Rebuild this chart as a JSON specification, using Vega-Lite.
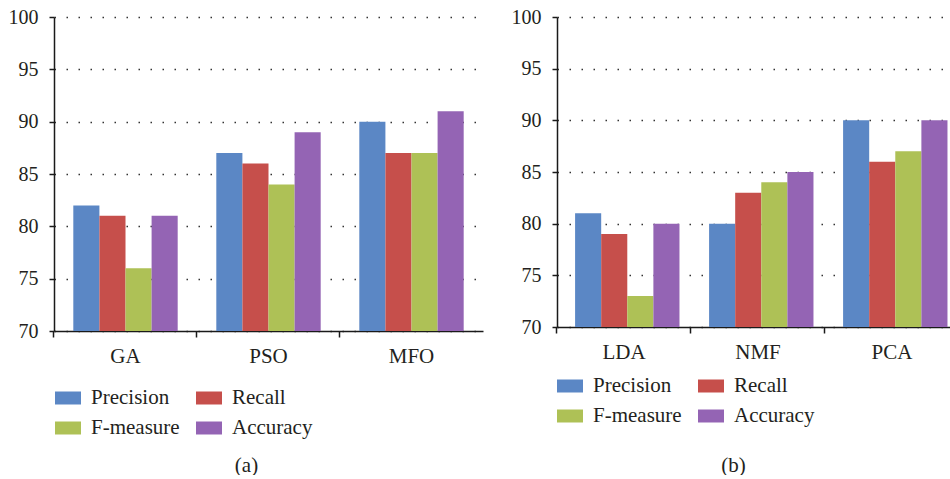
{
  "$schema": "https://vega.github.io/schema/vega-lite/v6.json",
  "background": "white",
  "padding": {"left": 8, "top": 7, "right": 0, "bottom": 0},
  "config": {
    "font": "Liberation Serif",
    "view": {"stroke": null},
    "axis": {
      "domainColor": "#1a1a1a",
      "domainWidth": 1.5,
      "tickColor": "#1a1a1a",
      "tickWidth": 1.5,
      "labelColor": "#231f20",
      "labelFont": "Liberation Serif",
      "titleFont": "Liberation Serif",
      "titleColor": "#231f20",
      "titleFontWeight": "normal"
    },
    "legend": {
      "labelFont": "Liberation Serif",
      "labelColor": "#231f20",
      "labelFontSize": 21,
      "labelOffset": 10,
      "symbolType": "M-1,-0.5H1V0.5H-1Z",
      "symbolSize": 676,
      "symbolStrokeWidth": 0,
      "symbolOpacity": 1,
      "columns": 2,
      "columnPadding": 16,
      "rowPadding": 7,
      "padding": 0,
      "title": null,
      "orient": "none"
    }
  },
  "datasets": {
    "a": [
      {"method": "GA", "metric": "Precision", "value": 82},
      {"method": "GA", "metric": "Recall", "value": 81},
      {"method": "GA", "metric": "F-measure", "value": 76},
      {"method": "GA", "metric": "Accuracy", "value": 81},
      {"method": "PSO", "metric": "Precision", "value": 87},
      {"method": "PSO", "metric": "Recall", "value": 86},
      {"method": "PSO", "metric": "F-measure", "value": 84},
      {"method": "PSO", "metric": "Accuracy", "value": 89},
      {"method": "MFO", "metric": "Precision", "value": 90},
      {"method": "MFO", "metric": "Recall", "value": 87},
      {"method": "MFO", "metric": "F-measure", "value": 87},
      {"method": "MFO", "metric": "Accuracy", "value": 91}
    ],
    "b": [
      {"method": "LDA", "metric": "Precision", "value": 81},
      {"method": "LDA", "metric": "Recall", "value": 79},
      {"method": "LDA", "metric": "F-measure", "value": 73},
      {"method": "LDA", "metric": "Accuracy", "value": 80},
      {"method": "NMF", "metric": "Precision", "value": 80},
      {"method": "NMF", "metric": "Recall", "value": 83},
      {"method": "NMF", "metric": "F-measure", "value": 84},
      {"method": "NMF", "metric": "Accuracy", "value": 85},
      {"method": "PCA", "metric": "Precision", "value": 90},
      {"method": "PCA", "metric": "Recall", "value": 86},
      {"method": "PCA", "metric": "F-measure", "value": 87},
      {"method": "PCA", "metric": "Accuracy", "value": 90}
    ]
  },
  "resolve": {"legend": {"color": "independent"}},
  "spacing": 28,
  "hconcat": [
    {
      "width": 429,
      "height": 314,
      "data": {"name": "a"},
      "mark": {"type": "bar"},
      "encoding": {
        "x": {
          "field": "method", "type": "nominal", "sort": ["GA", "PSO", "MFO"],
          "scale": {"paddingInner": 0.27, "paddingOuter": 0.135},
          "axis": {
            "title": "(a)", "titleFontSize": 21, "titleX": 192, "titleY": 134,
            "titleBaseline": "middle", "titleAlign": "center", "titleAnchor": null,
            "bandPosition": -0.185, "labelAngle": 0, "labelFontSize": 21,
            "labelPadding": 8, "tickSize": 6
          }
        },
        "xOffset": {
          "field": "metric", "type": "nominal",
          "sort": ["Precision", "Recall", "F-measure", "Accuracy"],
          "scale": {"paddingInner": 0, "paddingOuter": 0}
        },
        "y": {
          "field": "value", "type": "quantitative",
          "scale": {"domain": [70, 100], "zero": false, "nice": false},
          "axis": {
            "title": null, "values": [70, 75, 80, 85, 90, 95, 100],
            "labelFontSize": 20, "labelPadding": 11, "tickSize": 5,
            "grid": true, "gridColor": "#333333", "gridWidth": 1.5, "gridDash": [1.5, 10.5]
          }
        },
        "y2": {"datum": 70},
        "color": {
          "field": "metric", "type": "nominal",
          "scale": {
            "domain": ["Precision", "F-measure", "Recall", "Accuracy"],
            "range": ["#5b87c5", "#aec156", "#c64f4b", "#9464b4"]
          },
          "legend": {"legendX": 1, "legendY": 368}
        }
      }
    },
    {
      "width": 402,
      "height": 310,
      "data": {"name": "b"},
      "mark": {"type": "bar"},
      "encoding": {
        "x": {
          "field": "method", "type": "nominal", "sort": ["LDA", "NMF", "PCA"],
          "scale": {"paddingInner": 0.27, "paddingOuter": 0.135},
          "axis": {
            "title": "(b)", "titleFontSize": 21, "titleX": 176, "titleY": 138,
            "titleBaseline": "middle", "titleAlign": "center", "titleAnchor": null,
            "bandPosition": -0.185, "labelAngle": 0, "labelFontSize": 21,
            "labelPadding": 8, "tickSize": 6
          }
        },
        "xOffset": {
          "field": "metric", "type": "nominal",
          "sort": ["Precision", "Recall", "F-measure", "Accuracy"],
          "scale": {"paddingInner": 0, "paddingOuter": 0}
        },
        "y": {
          "field": "value", "type": "quantitative",
          "scale": {"domain": [70, 100], "zero": false, "nice": false},
          "axis": {
            "title": null, "values": [70, 75, 80, 85, 90, 95, 100],
            "labelFontSize": 20, "labelPadding": 11, "tickSize": 5,
            "grid": true, "gridColor": "#333333", "gridWidth": 1.5, "gridDash": [1.5, 10.5]
          }
        },
        "y2": {"datum": 70},
        "color": {
          "field": "metric", "type": "nominal",
          "scale": {
            "domain": ["Precision", "F-measure", "Recall", "Accuracy"],
            "range": ["#5b87c5", "#aec156", "#c64f4b", "#9464b4"]
          },
          "legend": {"legendX": 0, "legendY": 356}
        }
      }
    }
  ]
}
